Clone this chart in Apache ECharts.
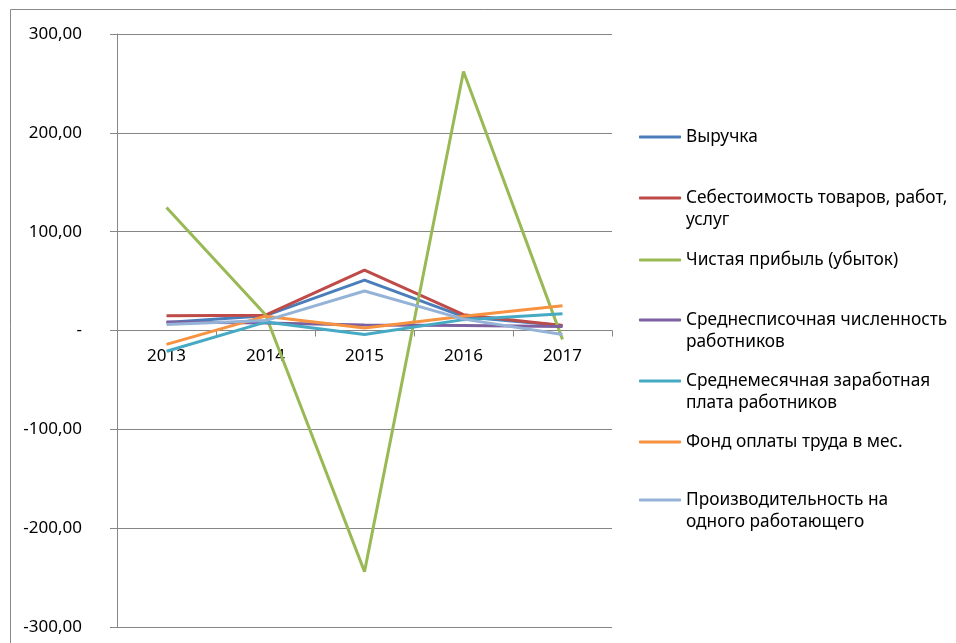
<!DOCTYPE html>
<html>
<head>
<meta charset="utf-8">
<script src="https://cdn.jsdelivr.net/npm/echarts@6/dist/echarts.min.js"></script>
<style>
  html, body { margin: 0; padding: 0; background: #fff; }
  #main { width: 956px; height: 643px; }
</style>
</head>
<body>
<div id="main"></div>
<script>
var years = ['2013', '2014', '2015', '2016', '2017'];
var names = [
  'Выручка',
  'Себестоимость товаров, работ,\nуслуг',
  'Чистая прибыль (убыток)',
  'Среднесписочная численность\nработников',
  'Среднемесячная заработная\nплата работников',
  'Фонд оплаты труда в мес.',
  'Производительность на\nодного работающего'
];
var revenue = [8, 15, 51, 14, 5];
var cost = [15, 15.5, 61, 16, 5];
var profit = [124.5, 16, -244, 262, -9];
var headcount = [8.5, 7.5, 5.5, 5, 4];
var salary = [-21, 8.5, -4, 11, 17];
var payroll = [-14, 14.5, 2.5, 14.5, 25];
var productivity = [6, 10, 40, 11.5, -4];
var yTicks = [-300, -200, -100, 0, 100, 200, 300];

var colors = ['#4A7EBB', '#BE4B48', '#98B954', '#7D60A0', '#46AAC5', '#F69240', '#95B3D7'];
var seriesData = [revenue, cost, profit, headcount, salary, payroll, productivity];
// first-line y of each legend entry
var legendY = [137, 198, 260, 320, 381, 442, 500];

var font = '"Noto Sans", sans-serif';
var chart = echarts.init(document.getElementById('main'));

var legends = names.map(function (n, i) {
  var twoLines = n.indexOf('\n') >= 0;
  return {
    data: [n],
    left: 639,
    top: twoLines ? legendY[i] - 33 : legendY[i] - 11,
    padding: 0,
    icon: 'roundRect',
    itemWidth: 42,
    itemHeight: 3,
    itemGap: 0,
    selectedMode: false,
    // blank first line keeps the symbol level with the first text line
    formatter: function (name) { return twoLines ? ' \n' + name : name; },
    textStyle: { fontFamily: font, fontSize: 17.3, color: '#000', lineHeight: 22 }
  };
});

var gridTop = 34, gridBottom = 16, chartH = 643;
var plotH = chartH - gridTop - gridBottom;
var zeroOffset = -plotH * (0 - yTicks[0]) / (yTicks[yTicks.length - 1] - yTicks[0]);

chart.setOption({
  animation: false,
  color: colors,
  graphic: [{
    type: 'rect',
    shape: { x: 10.5, y: 9.5, width: 1000, height: 1000 },
    style: { fill: 'none', stroke: '#888', lineWidth: 1 },
    silent: true
  }],
  legend: legends,
  grid: { left: 117, right: 344, top: gridTop, bottom: gridBottom, outerBoundsMode: 'none', containLabel: false },
  xAxis: {
    type: 'category',
    data: years,
    boundaryGap: true,
    position: 'bottom',
    offset: zeroOffset,
    axisLine: { onZero: false, lineStyle: { color: '#868686' } },
    axisTick: { show: true, length: 6, interval: 0, lineStyle: { color: '#868686' } },
    axisLabel: { margin: 17, fontFamily: font, fontSize: 17, color: '#000', interval: 0 }
  },
  yAxis: {
    type: 'value',
    min: yTicks[0],
    max: yTicks[yTicks.length - 1],
    interval: 100,
    axisLine: { show: true, lineStyle: { color: '#868686' } },
    axisTick: { show: true, length: 7, lineStyle: { color: '#868686' } },
    splitLine: { lineStyle: { color: '#868686' } },
    axisLabel: {
      margin: 35,
      fontFamily: font,
      fontSize: 17,
      color: '#000',
      formatter: function (v) {
        if (v === 0) return '-';
        return v.toFixed(2).replace('.', ',');
      }
    }
  },
  series: names.map(function (n, i) {
    return {
      name: n,
      type: 'line',
      data: seriesData[i],
      symbol: 'none',
      lineStyle: { width: 3, color: colors[i] },
      itemStyle: { color: colors[i] }
    };
  })
});
</script>
</body>
</html>
